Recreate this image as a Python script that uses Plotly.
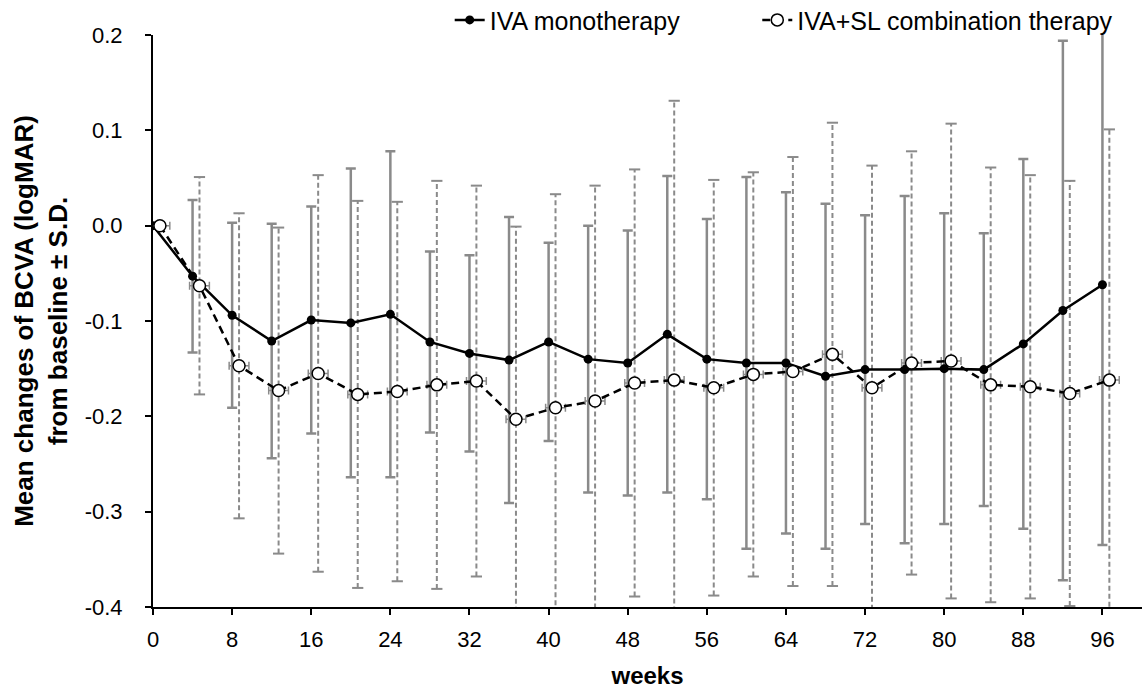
import plotly.graph_objects as go

weeks = [0, 4, 8, 12, 16, 20, 24, 28, 32, 36, 40, 44, 48, 52, 56, 60, 64, 68, 72, 76, 80, 84, 88, 92, 96]
mono_mean = [0, -0.053, -0.094, -0.121, -0.099, -0.102, -0.093, -0.122, -0.134, -0.141, -0.122, -0.140, -0.144,
             -0.114, -0.140, -0.144, -0.144, -0.158, -0.151, -0.151, -0.150, -0.151, -0.124, -0.089, -0.062]
mono_sd = [0, 0.080, 0.097, 0.123, 0.119, 0.162, 0.171, 0.095, 0.103, 0.150, 0.104, 0.140, 0.139,
           0.166, 0.147, 0.195, 0.179, 0.181, 0.162, 0.182, 0.163, 0.143, 0.194, 0.283, 0.273]
comb_mean = [0, -0.063, -0.147, -0.173, -0.155, -0.177, -0.174, -0.167, -0.163, -0.203, -0.191, -0.184, -0.165,
             -0.162, -0.170, -0.156, -0.153, -0.135, -0.170, -0.144, -0.142, -0.167, -0.169, -0.176, -0.162]
comb_sd = [0, 0.114, 0.160, 0.171, 0.208, 0.203, 0.199, 0.214, 0.205, 0.202, 0.224, 0.226, 0.224,
           0.293, 0.218, 0.212, 0.225, 0.243, 0.233, 0.222, 0.249, 0.228, 0.222, 0.223, 0.263]
comb_week_shift = 0.7
comb_x_err = 1.0
y_ticks = [0.2, 0.1, 0.0, -0.1, -0.2, -0.3, -0.4]
y_tick_text = ["0.2", "0.1", "0.0", "-0.1", "-0.2", "-0.3", "-0.4"]
x_ticks = [0, 8, 16, 24, 32, 40, 48, 56, 64, 72, 80, 88, 96]

FONT = "Arial, Liberation Sans, sans-serif"
GRAY = "#8a8a8a"

comb_x = [w + comb_week_shift for w in weeks]

# dashed error bars for the combination series
bx, by, cx, cy = [], [], [], []
for x, m, s in zip(comb_x, comb_mean, comb_sd):
    if s <= 0:
        continue
    bx += [x, x, None]
    by += [m - s, m + s, None]
    cx += [x, x]
    cy += [m - s, m + s]

fig = go.Figure()
fig.add_trace(go.Scatter(x=bx, y=by, mode="lines", showlegend=False, hoverinfo="skip",
                         line=dict(color=GRAY, width=2, dash="5px,3px")))
fig.add_trace(go.Scatter(x=cx, y=cy, mode="markers", showlegend=False, hoverinfo="skip",
                         marker=dict(symbol="line-ew", size=8, line=dict(color=GRAY, width=2))))

fig.add_trace(go.Scatter(
    x=weeks, y=mono_mean, mode="lines+markers", name="IVA monotherapy", legend="legend",
    line=dict(color="black", width=2.5),
    marker=dict(symbol="circle", size=9, color="black"),
    error_y=dict(type="data", array=mono_sd, visible=True, color=GRAY, thickness=2.5, width=5),
))
fig.add_trace(go.Scatter(
    x=comb_x, y=comb_mean, mode="lines+markers", name="IVA+SL combination therapy", legend="legend2",
    line=dict(color="black", width=2.5, dash="8px,5px"),
    marker=dict(symbol="circle", size=12, color="white", line=dict(color="black", width=1.5)),
    error_x=dict(type="constant", value=comb_x_err, visible=True, color=GRAY, thickness=1.5, width=4),
))

legend_style = dict(orientation="h", xanchor="left", y=1.026, yanchor="middle",
                    font=dict(size=25), bgcolor="rgba(0,0,0,0)")

fig.update_layout(
    width=1146, height=689,
    margin=dict(l=153, r=4, t=35, b=82, autoexpand=False),
    paper_bgcolor="white", plot_bgcolor="white",
    font=dict(family=FONT, size=22, color="black"),
    showlegend=True,
    legend=dict(x=0.30, **legend_style),
    legend2=dict(x=0.611, **legend_style),
    xaxis=dict(range=[0, 100], tickvals=x_ticks, showgrid=False, zeroline=False,
               showline=True, linecolor="black", linewidth=2, ticks="outside", ticklen=6,
               tickwidth=2, tickcolor="black", ticklabelstandoff=6,
               title=dict(text="<b>weeks</b>", standoff=18, font=dict(size=24))),
    yaxis=dict(range=[-0.4, 0.2], tickvals=y_ticks, ticktext=y_tick_text, showgrid=False, zeroline=False,
               showline=True, linecolor="black", linewidth=2, ticks="outside", ticklen=6,
               tickwidth=2, tickcolor="black", ticklabelstandoff=18,
               title=dict(text="<b>Mean changes of BCVA (logMAR)<br>from baseline ± S.D.</b>",
                          standoff=10, font=dict(size=26))),
)

fig.write_html("out.html", config={"displayModeBar": False},
               post_script="document.body.style.margin='0';")
